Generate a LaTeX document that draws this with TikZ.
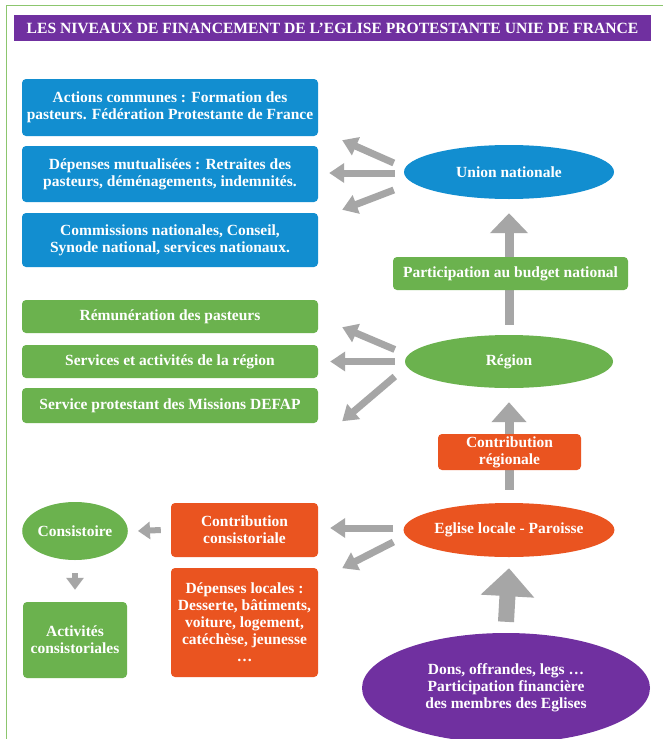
\documentclass[tikz,border=0pt]{standalone}
\usepackage{fontspec}
\setmainfont{Liberation Serif}
\usetikzlibrary{shapes.geometric,arrows.meta}
\definecolor{cblue}{RGB}{18,142,208}
\definecolor{cgreen}{RGB}{107,178,78}
\definecolor{corange}{RGB}{234,84,32}
\definecolor{cpurple}{RGB}{112,48,160}
\definecolor{cgrey}{RGB}{166,166,166}
\definecolor{cframe}{RGB}{140,198,110}
\tikzset{
  boxtxt/.style={text=white,font=\bfseries\fontsize{15.5}{17}\selectfont,align=center,inner sep=0pt},
  rbox/.style={boxtxt,rectangle,rounded corners=4pt},
  ell/.style={boxtxt,ellipse},
  fanarrow/.style={draw=cgrey,line width=7pt,-{Triangle[width=19pt,length=15pt]}},
  bigarrow/.style={draw=cgrey,line width=9pt,-{Triangle[width=37pt,length=20pt]}},
  smallarrow/.style={draw=cgrey,line width=6pt,-{Triangle[width=17pt,length=12pt]}}
}
\begin{document}
\begin{tikzpicture}[x=1pt,y=-1pt]
\useasboundingbox (0,0) rectangle (663,739);
\fill[white] (0,0) rectangle (663,739);
\draw[cframe,line width=1.5pt] (6.5,745) -- (6.5,5.5) -- (670,5.5);
% title
\node[fill=cpurple,minimum width=637pt,minimum height=26pt,inner sep=0pt,text=white,font=\bfseries\fontsize{15.6}{18}\selectfont] (title) at (332.5,28) {LES NIVEAUX DE FINANCEMENT DE L’EGLISE PROTESTANTE UNIE DE FRANCE};
% national level
\node[rbox,fill=cblue,minimum width=296pt,minimum height=57pt] (b1) at (170,107.5) {Actions communes : Formation des\\pasteurs. Fédération Protestante de France};
\node[rbox,fill=cblue,minimum width=296pt,minimum height=56pt] (b2) at (170,174) {Dépenses mutualisées : Retraites des\\pasteurs, déménagements, indemnités.};
\node[rbox,fill=cblue,minimum width=296pt,minimum height=54pt] (b3) at (170,240) {Commissions nationales, Conseil,\\Synode national, services nationaux.};
\node[ell,fill=cblue,minimum width=210pt,minimum height=54pt] (un) at (509,172) {Union nationale};
% regional level
\node[rbox,fill=cgreen,minimum width=296pt,minimum height=33pt] (g1) at (170,316.5) {Rémunération des pasteurs};
\node[rbox,fill=cgreen,minimum width=296pt,minimum height=33pt] (g2) at (170,361.5) {Services et activités de la région};
\node[rbox,fill=cgreen,minimum width=296pt,minimum height=35pt] (g3) at (170,405.5) {Service protestant des Missions DEFAP};
\node[ell,fill=cgreen,minimum width=208pt,minimum height=53pt] (reg) at (509,361.5) {Région};
% local level
\node[ell,fill=corange,minimum width=208pt,minimum height=54pt] (egl) at (509,530) {Eglise locale - Paroisse};
\node[rbox,fill=corange,minimum width=147pt,minimum height=54pt] (cc) at (244.5,530) {Contribution\\consistoriale};
\node[rbox,fill=corange,minimum width=147pt,minimum height=109pt] (dl) at (244.5,622.5) {Dépenses locales :\\Desserte, bâtiments,\\voiture, logement,\\catéchèse, jeunesse\\…};
\node[ell,fill=cgreen,minimum width=104pt,minimum height=58pt] (cons) at (75,531) {Consistoire};
\node[rbox,fill=cgreen,minimum width=104pt,minimum height=76pt] (act) at (75,640) {Activités\\consistoriales};
\node[ell,fill=cpurple,minimum width=288pt,minimum height=110pt] (dons) at (506,688) {Dons, offrandes, legs …\\Participation financière\\des membres des Eglises};
% vertical arrows (drawn below the label boxes)
\draw[bigarrow] ([yshift=10pt]reg.north) -- ([yshift=-14pt]un.south);
\draw[bigarrow,-{Triangle[width=34pt,length=20pt]}] ([yshift=13pt]egl.north) -- ([yshift=-14pt]reg.south);
\draw[draw=cgrey,line width=16pt,-{Triangle[width=52pt,length=28pt]}] ([yshift=11pt]dons.north) -- ([yshift=-11pt]egl.south);
% label boxes on top of the arrows
\node[rbox,fill=cgreen,minimum width=235pt,minimum height=33pt] (part) at (510.5,273.5) {Participation au budget national};
\node[rbox,fill=corange,minimum width=143pt,minimum height=36pt] (creg) at (509.5,452) {Contribution\\régionale};
% fan arrows from Union nationale
\draw[fanarrow] ([shift={(-10,-9)}]un.west) -- ([shift={(24,4)}]b1.south east);
\draw[fanarrow] ([shift={(-9,1)}]un.west) -- ([shift={(11,-1)}]b2.east);
\draw[fanarrow] ([shift={(-10,18)}]un.west) -- ([shift={(24,-3)}]b3.north east);
% fan arrows from Region
\draw[fanarrow] ([shift={(-10,-12)}]reg.west) -- ([shift={(24,-6)}]g1.south east);
\draw[fanarrow] ([shift={(-10,0)}]reg.west) -- ([shift={(12,0)}]g2.east);
\draw[fanarrow] ([shift={(-10,15)}]reg.west) -- ([shift={(24,-2)}]g3.south east);
% arrows from Eglise locale
\draw[fanarrow] ([shift={(-10,-2)}]egl.west) -- ([shift={(12,-2)}]cc.east);
\draw[fanarrow] ([shift={(-10,12)}]egl.west) -- ([shift={(24,11)}]cc.south east);
% consistoire arrows
\draw[smallarrow] ([xshift=-10pt]cc.west) -- ([xshift=10pt]cons.east);
\draw[smallarrow] ([yshift=-13pt]cons.south) -- ([yshift=12pt]act.north);
\end{tikzpicture}
\end{document}
